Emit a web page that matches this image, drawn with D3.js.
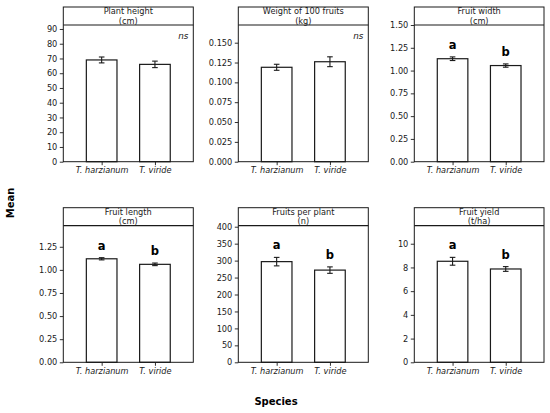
<!DOCTYPE html>
<html><head><meta charset="utf-8">
<script src="https://cdn.jsdelivr.net/npm/d3@7"></script>
<style>body{margin:0;background:#fff}svg{display:block;font-family:"DejaVu Sans",sans-serif}</style>
</head><body><svg id="c" width="550" height="413"></svg>
<script>
// ---- data ----
const species = ["T. harzianum", "T. viride"];
const titles = [["Plant height","(cm)"],["Weight of 100 fruits","(kg)"],["Fruit width","(cm)"],
                ["Fruit length","(cm)"],["Fruits per plant","(n)"],["Fruit yield","(t/ha)"]];
const means = [[69.0, 66.0],[0.119, 0.126],[1.13, 1.055],[1.12, 1.06],[297, 272],[8.52, 7.87]];
const errs  = [[2.0, 2.2],[0.0038, 0.0062],[0.02, 0.018],[0.012, 0.014],[12.5, 9.5],[0.33, 0.2]];
const letters = [["ns"],["ns"],["a","b"],["a","b"],["a","b"],["a","b"]];
const yMax = [92.7, 0.1723, 1.5, 1.478, 403, 11.52];
const tickStep = [10, 0.025, 0.25, 0.25, 50, 2];
const tickTop = [90, 0.150, 1.50, 1.25, 400, 10];
const tickFmt = [".0f", ".3f", ".2f", ".2f", ".0f", ".0f"];
const xLabel = "Species", yLabel = "Mean";

// ---- layout ----
const cols = [[63.3,193.3],[238.3,368.3],[414.3,544]];
const rows = [[7,25,161.7],[207.7,225.7,362.3]];
const svg = d3.select("#c");
const ink = "#1a1a1a";

means.forEach((m, i) => {
  const [x0, x1] = cols[i % 3];
  const [s0, s1, yb] = rows[Math.floor(i / 3)];
  const g = svg.append("g");
  const x = d3.scaleLinear().domain([-0.72, 1.72]).range([x0, x1]);
  const y = d3.scaleLinear().domain([0, yMax[i]]).range([yb, s1]);
  const bw = 0.575;

  // ticks
  const tv = d3.range(0, tickTop[i] + tickStep[i] / 2, tickStep[i]);
  const yAxis = d3.axisLeft(y).tickValues(tv).tickFormat(d3.format(tickFmt[i])).tickSizeOuter(0).tickSize(3.5).tickPadding(2.5);
  const ya = g.append("g").attr("transform", `translate(${x0},0)`).call(yAxis);
  ya.select(".domain").remove();
  ya.selectAll("text").attr("font-size", 8.2).attr("fill", ink).attr("font-family", "DejaVu Sans");
  ya.selectAll("line").attr("stroke", ink).attr("stroke-width", 0.9);

  const xAxis = d3.axisBottom(x).tickValues([0, 1]).tickFormat((d) => species[d]).tickSizeOuter(0).tickSize(3.5).tickPadding(2);
  const xa = g.append("g").attr("transform", `translate(0,${yb})`).call(xAxis);
  xa.select(".domain").remove();
  xa.selectAll("text").attr("font-size", 8.2).attr("font-style", "italic").attr("fill", ink).attr("font-family", "DejaVu Sans");
  xa.selectAll("line").attr("stroke", ink).attr("stroke-width", 0.9);

  // bars
  g.selectAll("rect.bar").data(m).join("rect").attr("class", "bar")
    .attr("x", (d, j) => x(j - bw / 2)).attr("width", x(bw) - x(0))
    .attr("y", (d) => y(d)).attr("height", (d) => yb - y(d))
    .attr("fill", "#fff").attr("stroke", ink).attr("stroke-width", 1.2);

  // error bars
  const cap = 2.8;
  m.forEach((d, j) => {
    const cx = x(j), t = y(d + errs[i][j]), b = y(d - errs[i][j]);
    g.append("line").attr("x1", cx).attr("x2", cx).attr("y1", t).attr("y2", b).attr("stroke", ink).attr("stroke-width", 1.1);
    [t, b].forEach(v => g.append("line").attr("x1", cx - cap).attr("x2", cx + cap).attr("y1", v).attr("y2", v).attr("stroke", ink).attr("stroke-width", 1.1));
    if (letters[i].length === 2) {
      g.append("text").attr("x", cx).attr("y", t - 8).attr("text-anchor", "middle")
        .attr("font-size", 11.5).attr("font-weight", "bold").attr("fill", "#000").text(letters[i][j]);
    }
  });
  if (letters[i].length === 1) {
    g.append("text").attr("x", x1 - 5).attr("y", s1 + 13.5).attr("text-anchor", "end")
      .attr("font-size", 8.8).attr("font-style", "italic").attr("fill", ink).text(letters[i][0]);
  }

  // frame + strip
  g.append("rect").attr("x", x0).attr("y", s0).attr("width", x1 - x0).attr("height", yb - s0)
    .attr("fill", "none").attr("stroke", ink).attr("stroke-width", 1);
  g.append("line").attr("x1", x0).attr("x2", x1).attr("y1", s1).attr("y2", s1).attr("stroke", ink).attr("stroke-width", 1.2);
  titles[i].forEach((t, k) => {
    g.append("text").attr("x", (x0 + x1) / 2).attr("y", s0 + 7.3 + k * 9.4).attr("text-anchor", "middle")
      .attr("font-size", 8.2).attr("fill", ink).text(t);
  });
});

svg.append("text").attr("x", 276).attr("y", 405).attr("text-anchor", "middle")
  .attr("font-size", 10).attr("font-weight", "bold").attr("fill", "#000").text(xLabel);
svg.append("text").attr("transform", "translate(13.5,203) rotate(-90)").attr("text-anchor", "middle")
  .attr("font-size", 10).attr("font-weight", "bold").attr("fill", "#000").text(yLabel);
</script></body></html>
